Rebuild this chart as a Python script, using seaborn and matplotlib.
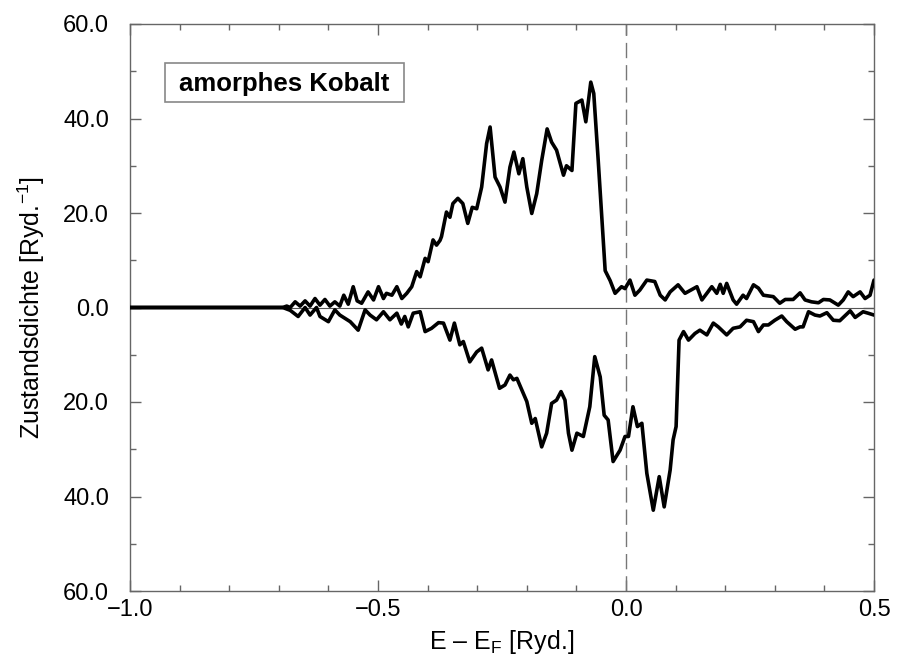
import numpy as np
import pandas as pd
import matplotlib
matplotlib.use("Agg")
import matplotlib.pyplot as plt
from matplotlib.patches import Rectangle
from matplotlib.ticker import MultipleLocator, FuncFormatter
import seaborn as sns

# Spin-up density of states (upper half)
x_up = [-1.0, -0.692, -0.684, -0.677, -0.667, -0.657, -0.647, -0.637, -0.627, -0.617,
        -0.607, -0.597, -0.587, -0.577, -0.569, -0.560, -0.550, -0.542, -0.533, -0.520,
        -0.509, -0.499, -0.489, -0.483, -0.472, -0.462, -0.452, -0.442, -0.432, -0.422,
        -0.415, -0.405, -0.399, -0.389, -0.382, -0.375, -0.372, -0.362, -0.355, -0.349,
        -0.339, -0.329, -0.319, -0.310, -0.301, -0.291, -0.281, -0.274, -0.264, -0.254,
        -0.244, -0.234, -0.226, -0.216, -0.208, -0.200, -0.190, -0.180, -0.170, -0.159,
        -0.150, -0.140, -0.126, -0.120, -0.109, -0.101, -0.089, -0.081, -0.071, -0.065,
        -0.056, -0.042, -0.032, -0.022, -0.009, -0.002, 0.008, 0.018, 0.028, 0.042,
        0.058, 0.069, 0.079, 0.089, 0.105, 0.119, 0.143, 0.153, 0.173, 0.183,
        0.190, 0.196, 0.203, 0.216, 0.223, 0.236, 0.243, 0.257, 0.267, 0.277,
        0.297, 0.310, 0.321, 0.337, 0.351, 0.361, 0.374, 0.388, 0.398, 0.411,
        0.428, 0.438, 0.448, 0.458, 0.472, 0.482, 0.492, 0.500]
dos_up = [0.0, 0.0, 0.3, 0.0, 1.2, 0.3, 1.4, 0.3, 1.9, 0.5,
          1.7, 0.3, 1.2, 0.3, 2.6, 0.7, 4.4, 1.4, 0.9, 3.3,
          1.6, 4.4, 1.9, 3.0, 2.6, 4.4, 1.9, 3.0, 4.4, 7.6,
          6.5, 10.4, 9.7, 14.3, 13.2, 14.2, 15.0, 20.2, 19.1, 22.0,
          23.1, 22.0, 17.8, 21.2, 20.9, 25.5, 34.7, 38.2, 27.6, 25.5,
          22.3, 29.7, 32.9, 28.3, 31.5, 25.5, 19.9, 24.1, 31.1, 37.8,
          35.0, 33.3, 28.0, 30.0, 29.0, 43.2, 43.9, 39.3, 47.7, 45.3,
          31.1, 7.8, 5.7, 3.0, 4.4, 4.0, 5.8, 2.6, 3.7, 5.8,
          5.5, 2.6, 1.6, 3.3, 4.8, 3.0, 4.4, 1.6, 4.4, 3.0,
          4.9, 3.0, 5.1, 1.6, 0.7, 2.6, 1.9, 4.8, 4.1, 2.6,
          2.3, 0.9, 1.7, 1.7, 3.1, 1.6, 1.2, 1.0, 1.7, 1.6,
          0.5, 1.6, 3.3, 2.3, 3.3, 1.9, 2.6, 5.8]

# Spin-down density of states (drawn mirrored, below zero)
x_dn = [-1.0, -0.692, -0.677, -0.661, -0.647, -0.637, -0.624, -0.617, -0.600, -0.587,
        -0.577, -0.556, -0.540, -0.526, -0.516, -0.503, -0.489, -0.476, -0.462, -0.453,
        -0.446, -0.439, -0.429, -0.415, -0.405, -0.392, -0.378, -0.368, -0.355, -0.346,
        -0.335, -0.328, -0.315, -0.301, -0.291, -0.278, -0.271, -0.255, -0.244, -0.234,
        -0.227, -0.220, -0.200, -0.190, -0.183, -0.170, -0.160, -0.150, -0.140, -0.131,
        -0.123, -0.116, -0.109, -0.099, -0.086, -0.073, -0.063, -0.052, -0.044, -0.036,
        -0.026, -0.012, -0.002, 0.005, 0.014, 0.023, 0.032, 0.042, 0.055, 0.067,
        0.077, 0.089, 0.095, 0.101, 0.107, 0.116, 0.126, 0.139, 0.149, 0.163,
        0.176, 0.186, 0.203, 0.216, 0.230, 0.243, 0.257, 0.267, 0.277, 0.287,
        0.300, 0.314, 0.324, 0.341, 0.351, 0.357, 0.368, 0.381, 0.391, 0.405,
        0.418, 0.431, 0.452, 0.462, 0.478, 0.488, 0.500]
dos_dn = [0.0, 0.0, 0.6, 1.9, 0.0, 1.6, 0.0, 1.9, 3.0, 0.5,
          1.6, 3.0, 4.8, 0.5, 1.6, 2.6, 0.9, 2.6, 1.2, 3.5,
          1.9, 4.1, 1.2, 0.9, 5.1, 4.4, 3.2, 3.3, 6.9, 3.3,
          7.9, 7.2, 11.5, 9.4, 8.6, 13.2, 11.1, 17.1, 16.4, 14.3,
          15.3, 15.0, 19.9, 24.5, 23.5, 29.5, 26.6, 20.3, 19.6, 17.8,
          19.6, 26.6, 30.2, 26.6, 27.3, 21.0, 10.4, 14.7, 22.8, 23.8,
          32.6, 30.2, 27.3, 27.3, 21.0, 25.2, 24.5, 35.1, 42.9, 35.8,
          42.2, 34.4, 28.0, 25.2, 6.9, 5.1, 6.9, 5.5, 4.8, 5.8,
          3.3, 4.1, 5.8, 4.4, 4.1, 2.7, 3.0, 5.1, 3.7, 3.7,
          2.7, 1.8, 3.0, 4.6, 4.1, 4.1, 0.9, 1.6, 1.8, 1.1,
          2.7, 2.8, 0.7, 2.1, 0.9, 1.2, 1.6]

x_ticks = [-1.0, -0.5, 0.0, 0.5]
y_ticks = [-60, -40, -20, 0, 20, 40, 60]
title_text = "amorphes Kobalt"

sns.set_theme(style="ticks")
plt.rcParams["font.family"] = ["Liberation Sans", "DejaVu Sans"]
plt.rcParams["mathtext.fontset"] = "custom"
plt.rcParams["mathtext.rm"] = "Liberation Sans"
plt.rcParams["mathtext.it"] = "Liberation Sans"

fig = plt.figure(figsize=(8.97, 6.6), dpi=100)
ax = fig.add_axes([130 / 897, 1 - 591 / 660, 744 / 897, 567 / 660])

spine_col = "#666666"
ax.axhline(0, color="#555555", lw=0.8, zorder=1)
ax.axvline(0, color="#777777", lw=1.0, dashes=(11, 5), zorder=1)

df_up = pd.DataFrame({"E": x_up, "DOS": dos_up})
df_dn = pd.DataFrame({"E": x_dn, "DOS": -np.asarray(dos_dn)})
sns.lineplot(data=df_up, x="E", y="DOS", ax=ax, color="black", lw=2.6,
             sort=False, estimator=None, solid_joinstyle="round", zorder=3)
sns.lineplot(data=df_dn, x="E", y="DOS", ax=ax, color="black", lw=2.6,
             sort=False, estimator=None, solid_joinstyle="round", zorder=3)

ax.set_xlim(-1.0, 0.5)
ax.set_ylim(-60, 60)
ax.set_xticks(x_ticks)
ax.set_yticks(y_ticks)
ax.xaxis.set_minor_locator(MultipleLocator(0.1))
ax.yaxis.set_minor_locator(MultipleLocator(10))
ax.xaxis.set_major_formatter(FuncFormatter(lambda v, p: f"{v:.1f}".replace("-", "\u2212")))
ax.yaxis.set_major_formatter(FuncFormatter(lambda v, p: f"{abs(v):.1f}"))

for s in ax.spines.values():
    s.set_color(spine_col)
    s.set_linewidth(1.0)
ax.tick_params(which="both", direction="in", top=True, right=True, colors=spine_col,
               labelcolor="black")
ax.tick_params(which="major", length=8, width=1.0)
ax.tick_params(which="minor", length=4, width=1.0)
ax.tick_params(axis="x", which="major", labelsize=17, pad=6)
ax.tick_params(axis="y", which="major", labelsize=17, pad=15)

ax.set_xlabel("E \u2013 E$_\\mathrm{F}$ [Ryd.]", fontsize=18, labelpad=5, color="black")
ax.set_ylabel("Zustandsdichte [Ryd.$^{-1}$]", fontsize=18, labelpad=12, color="black")

ax.add_patch(Rectangle((0.047, 0.862), 0.321, 0.069, transform=ax.transAxes,
                       facecolor="white", edgecolor="#888888", lw=1.2, zorder=4))
ax.text(0.2075, 0.895, title_text, transform=ax.transAxes, ha="center", va="center",
        fontsize=18.5, fontweight="bold", color="black", zorder=5)

fig.savefig("out.png", dpi=100)
